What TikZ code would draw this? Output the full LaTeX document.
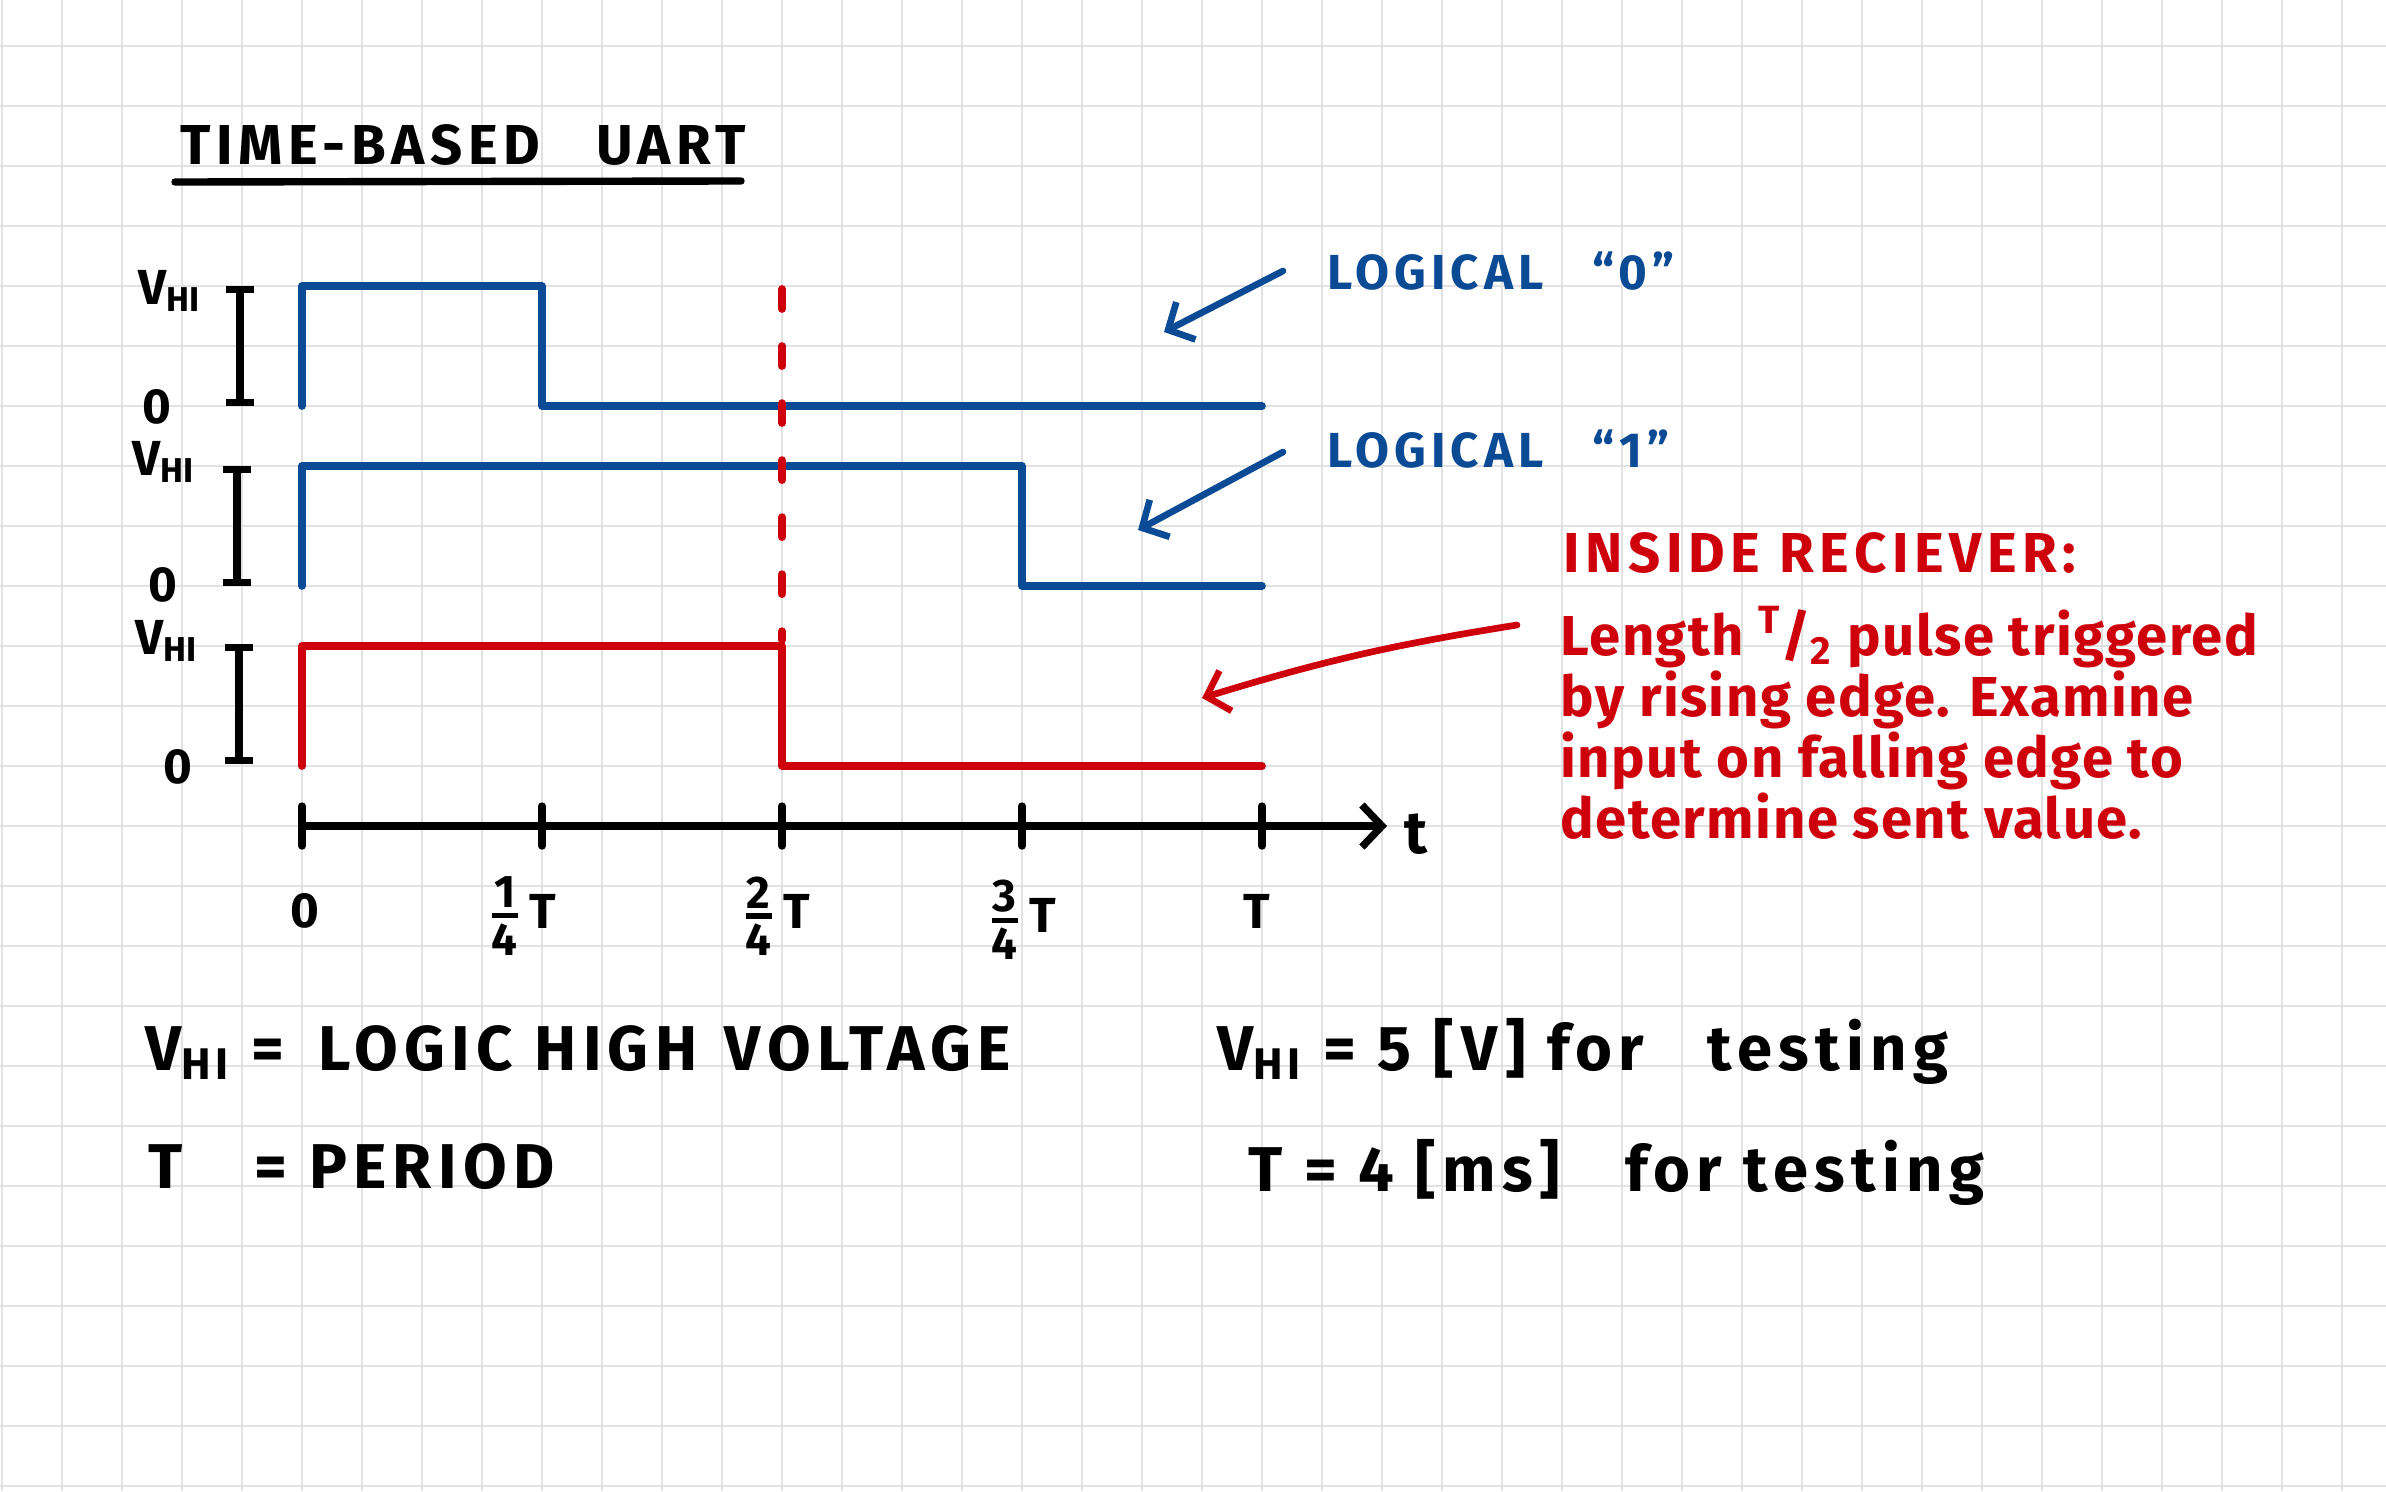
\documentclass[tikz,border=0pt]{standalone}
\usepackage{amsmath}
\usepackage{fontspec}
\setmainfont{Fira Sans}
\newfontfamily\handcaps[LetterSpace=10]{Fira Sans}
\newfontfamily\handnote[LetterSpace=2.5]{Fira Sans}
\usepackage{xcolor}
\usepackage{tikz}
\usetikzlibrary{positioning,arrows.meta}

\definecolor{penblue}{RGB}{11,74,148}
\definecolor{penred}{RGB}{206,0,12}
\definecolor{gridgray}{RGB}{226,226,226}

\newcommand{\qdigit}[1]{\mbox{\fontsize{13}{14}\selectfont\bfseries #1}}
\newcommand{\qfrac}[1]{$\genfrac{}{}{1.5pt}{1}{\qdigit{#1}}{\qdigit{4}}$\,T}

\tikzset{
  gridline/.style={draw=gridgray, line width=0.5pt},
  signal/.style={line width=2.2pt, line join=round, line cap=round},
  bracket/.style={line width=2.1pt, {Bar[width=0.27cm]}-{Bar[width=0.27cm]}},
  axisline/.style={line width=2.1pt, line cap=round},
  pointer/.style={line width=1.9pt, line cap=round,
    -{Straight Barb[length=0.2cm,width=0.42cm]}},
  levellabel/.style={font=\bfseries\fontsize{14}{16}\selectfont, inner sep=0pt},
  ticklabel/.style={font=\bfseries\fontsize{14}{16}\selectfont, inner sep=0pt},
  handtext/.style={font=\handcaps\bfseries\fontsize{18}{20}\selectfont,
    inner sep=0pt, anchor=base west},
}

\begin{document}
\begin{tikzpicture}[x=0.01cm, y=-0.01cm]

% paper
\fill[white] (0,0) rectangle (2386,1491);
\useasboundingbox (0,0) rectangle (2386,1491);

% grid
\foreach \gx in {2,62,...,2386}
  \draw[gridline] (\gx,0) -- (\gx,1491);
\foreach \gy in {46,106,...,1491}
  \draw[gridline] (0,\gy) -- (2386,\gy);

% title
\node [handtext,
font=\handcaps\bfseries\fontsize{16}{18}\selectfont
] (title) at (180,165) {TIME-BASED\quad UART};
\draw[axisline] (175,182) -- (741,181);

% Logical 0
\draw[signal, penblue] (302,406) -- (302,286) -- (542,286) -- (542,406) -- (1262,406);
% Logical 1
\draw[signal, penblue] (302,586) -- (302,466) -- (1022,466) -- (1022,586) -- (1262,586);
% receiver pulse
\draw[signal, penred] (302,766) -- (302,646) -- (782,646) -- (782,766) -- (1262,766);
\draw[signal, penred, dash pattern=on 0.2cm off 0.37cm] (782,289) -- (782,640);

% level brackets
\draw[bracket] (240,286) -- (240,406);
\draw[bracket] (237,466) -- (237,586);
\draw[bracket] (239,644) -- (239,764);

\node [levellabel, anchor=east] (vhi0) at (202,291) {V\textsubscript{HI}};
\node [levellabel] (zero0) at (157,407) {0};
\node [levellabel, anchor=east] (vhi1) at (196,462) {V\textsubscript{HI}};
\node [levellabel] (zero1) at (163,585) {0};
\node [levellabel, anchor=east] (vhi2) at (199,641) {V\textsubscript{HI}};
\node [levellabel] (zero2) at (178,767) {0};

% time axis
\draw[axisline, -{Straight Barb[length=0.2cm,width=0.42cm]}] (302,826) -- (1387,826);
\foreach \tx in {302,542,782,1022,1262}
  \draw[axisline] (\tx,806) -- (\tx,846);
\node [ticklabel,
font=\bfseries\fontsize{17}{19}\selectfont
] (tlabel) at (1416,834) {t};

\node [ticklabel] (tick0) at (305,911) {0};
\node [ticklabel] (tick1) at (522,916) {\qfrac{1}};
\node [ticklabel] (tick2) at (776,916) {\qfrac{2}};
\node [ticklabel] (tick3) at (1022,920) {\qfrac{3}};
\node [ticklabel] (tick4) at (1257,911) {T};

% blue notes
\node [handtext,
font=\handcaps\bfseries\fontsize{14}{16}\selectfont,
text=penblue
] (logic0) at (1327,289) {LOGICAL\quad “0”};
\node [handtext,
font=\handcaps\bfseries\fontsize{14}{16}\selectfont,
text=penblue
] (logic1) at (1327,467) {LOGICAL\quad “1”};
\coordinate (tip0) at (1164,332);
\coordinate (tip1) at (1138,530);
\draw[pointer, penblue] ([shift={(-0.44cm,0.18cm)}]logic0.base west) -- (tip0);
\draw[pointer, penblue] ([shift={(-0.44cm,0.15cm)}]logic1.base west) -- (tip1);

% receiver note
\node [handtext,
font=\handcaps\bfseries\fontsize{16}{18}\selectfont,
text=penred
] (inside) at (1563,572) {INSIDE RECIEVER:};
\node [inner sep=0pt,
align=left,
anchor=north west,
text=penred,
font=\handnote\bfseries\fontsize{16}{17.4}\selectfont
] (note) at (1560,605) {Length \textsuperscript{T}/\textsubscript{2} pulse triggered\\
by rising edge. Examine\\
input on falling edge to\\
determine sent value.};
\coordinate (tipr) at (1202,698);
\draw[pointer, penred] ([shift={(-0.43cm,-0.2cm)}]note.north west) to[bend right=4] (tipr);

% definitions
\node [handtext] (vhidef) at (145,1070) {V\textsubscript{HI} = \hspace{0.2em}LOGIC HIGH \hspace{0.1em}VOLTAGE};
\node [handtext] (tdef) at (148,1188) {T\hspace{0.8em} = PERIOD};
\node [handtext] (vhitest) at (1217,1070) {V\textsubscript{HI} = 5 [V] for\quad testing};
\node [handtext] (ttest) at (1248,1191) {T = 4 [ms]\hspace{0.7em} for testing};

\end{tikzpicture}
\end{document}
